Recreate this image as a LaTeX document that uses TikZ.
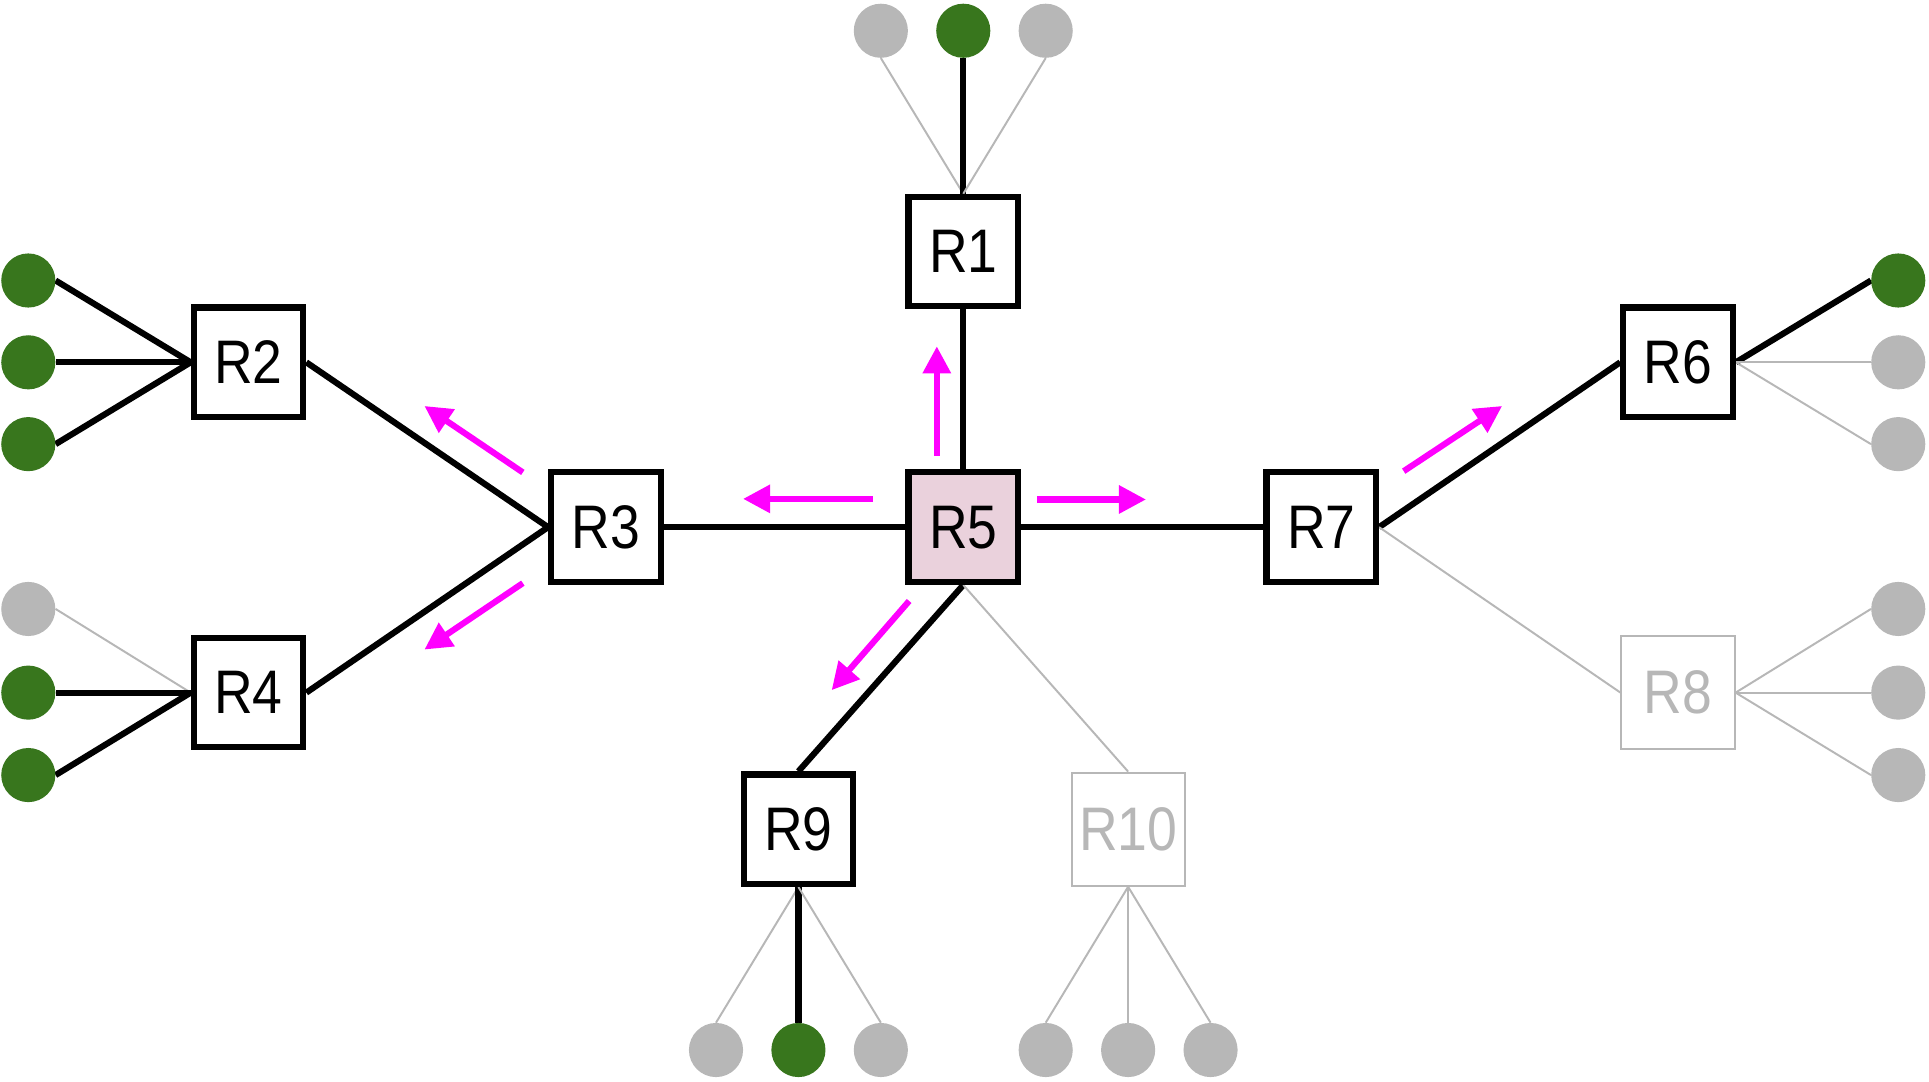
\documentclass[tikz,border=0pt]{standalone}
\usepackage{fontspec}
\setmainfont[FakeStretch=0.87]{Liberation Sans}
\usepackage{xcolor}
\usetikzlibrary{arrows.meta,backgrounds}

\definecolor{leafgreen}{HTML}{38761D}
\definecolor{offgray}{HTML}{B7B7B7}
\definecolor{flowpink}{HTML}{FF00FF}
\definecolor{rootfill}{HTML}{EAD1DC}

\begin{document}
\begin{tikzpicture}[x=1pt, y=-1pt, >={Triangle[length=22pt,width=22pt]},
    router/.style={draw, line width=5pt, fill=white, minimum width=89pt, minimum height=89pt, inner sep=0pt, font=\fontsize{50}{51}\selectfont},
    routeroff/.style={router, draw=offgray, text=offgray, line width=1.6pt, minimum width=92pt, minimum height=92pt},
    host/.style={circle, fill=leafgreen, minimum size=44pt, inner sep=0pt},
    hostoff/.style={host, fill=offgray},
    link/.style={line width=5pt},
    linkoff/.style={line width=1.6pt, offgray},
    flow/.style={->, line width=5pt, flowpink}]
    \useasboundingbox (0,0) rectangle (1568,879);

    \node[router] (R1) at (783,204.5) {R1};
    \node[router] (R2) at (202,294.5) {R2};
    \node[router] (R3) at (492.5,428.5) {R3};
    \node[router] (R4) at (202,563) {R4};
    \node[router, fill=rootfill] (R5) at (783,428.5) {R5};
    \node[router] (R6) at (1364,294.5) {R6};
    \node[router] (R7) at (1074,428.5) {R7};
    \node[routeroff] (R8) at (1364,563) {R8};
    \node[router] (R9) at (649,674) {R9};
    \node[routeroff] (R10) at (917,674) {R10};

    % hosts
    \node[hostoff] (h1a) at (716,25) {};
    \node[host] (h1b) at (783,25) {};
    \node[hostoff] (h1c) at (850,25) {};

    \node[host] (h2a) at (23,228) {};
    \node[host] (h2b) at (23,294.5) {};
    \node[host] (h2c) at (23,361) {};

    \node[hostoff] (h4a) at (23,495) {};
    \node[host] (h4b) at (23,563) {};
    \node[host] (h4c) at (23,630) {};

    \node[host] (h6a) at (1543,228) {};
    \node[hostoff] (h6b) at (1543,294.5) {};
    \node[hostoff] (h6c) at (1543,361) {};

    \node[hostoff] (h8a) at (1543,495) {};
    \node[hostoff] (h8b) at (1543,563) {};
    \node[hostoff] (h8c) at (1543,630) {};

    \node[hostoff] (h9a) at (582,853.5) {};
    \node[host] (h9b) at (649,853.5) {};
    \node[hostoff] (h9c) at (716,853.5) {};

    \node[hostoff] (h10a) at (850,853.5) {};
    \node[hostoff] (h10b) at (917,853.5) {};
    \node[hostoff] (h10c) at (984,853.5) {};

    \begin{scope}[on background layer]
    \draw[link] (R1.south) -- (R5.north);
    \draw[link] (R3.east) -- (R5.west);
    \draw[link] (R5.east) -- (R7.west);
    \draw[link] (R2.east) -- (R3.west);
    \draw[link] (R4.east) -- (R3.west);
    \draw[link] (R5.south) -- (R9.north);
    \draw[link] (R7.east) -- (R6.west);
    \draw[linkoff] (R5.south) -- (R10.north);
    \draw[linkoff] (R7.east) -- (R8.west);

    \draw[linkoff] (R1.north) -- (h1a.south);
    \draw[link] (R1.north) -- (h1b.south);
    \draw[linkoff] (R1.north) -- (h1c.south);

    \draw[link] (R2.west) -- (h2a.east);
    \draw[link] (R2.west) -- (h2b.east);
    \draw[link] (R2.west) -- (h2c.east);

    \draw[linkoff] (R4.west) -- (h4a.east);
    \draw[link] (R4.west) -- (h4b.east);
    \draw[link] (R4.west) -- (h4c.east);

    \draw[link] (R6.east) -- (h6a.west);
    \draw[linkoff] (R6.east) -- (h6b.west);
    \draw[linkoff] (R6.east) -- (h6c.west);

    \draw[linkoff] (R8.east) -- (h8a.west);
    \draw[linkoff] (R8.east) -- (h8b.west);
    \draw[linkoff] (R8.east) -- (h8c.west);

    \draw[linkoff] (R9.south) -- (h9a.north);
    \draw[link] (R9.south) -- (h9b.north);
    \draw[linkoff] (R9.south) -- (h9c.north);

    \draw[linkoff] (R10.south) -- (h10a.north);
    \draw[linkoff] (R10.south) -- (h10b.north);
    \draw[linkoff] (R10.south) -- (h10c.north);
    \end{scope}

    % flooding out of R5
    \coordinate (up0) at (761.5,370.5);
    \coordinate (up1) at (761.5,281.5);
    \coordinate (lt0) at (709.5,405.5);
    \coordinate (lt1) at (604,405.5);
    \coordinate (rt0) at (843,406);
    \coordinate (rt1) at (931.5,406);
    \coordinate (dn0) at (739,488.5);
    \coordinate (dn1) at (676,561);
    \coordinate (nw0) at (425,384);
    \coordinate (nw1) at (345,330);
    \coordinate (sw0) at (425,474);
    \coordinate (sw1) at (345,528);
    \coordinate (ne0) at (1141,383);
    \coordinate (ne1) at (1221,330);

    \draw[flow] (up0) -- (up1);
    \draw[flow] (lt0) -- (lt1);
    \draw[flow] (rt0) -- (rt1);
    \draw[flow] (dn0) -- (dn1);
    \draw[flow] (nw0) -- (nw1);
    \draw[flow] (sw0) -- (sw1);
    \draw[flow] (ne0) -- (ne1);
\end{tikzpicture}
\end{document}
